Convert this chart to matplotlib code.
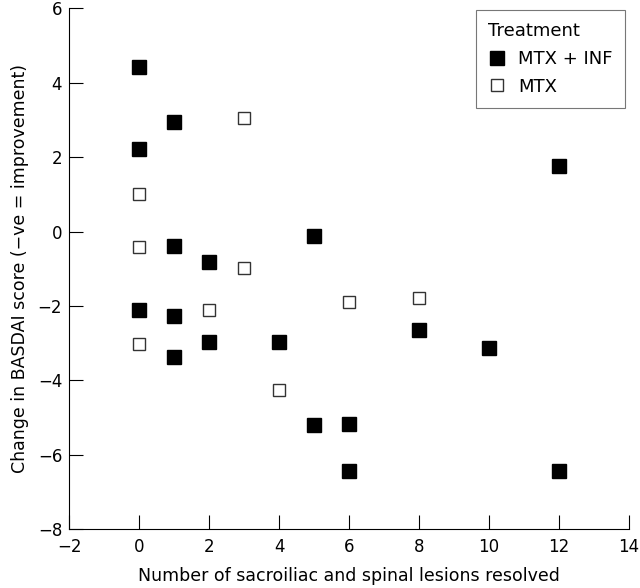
import matplotlib
matplotlib.use("Agg")
import matplotlib.pyplot as plt

plt.rcParams['font.family'] = ['DejaVu Sans']

# MTX + INF (filled squares)
inf_x = [0, 0, 0, 1, 1, 1, 1, 2, 2, 4, 5, 5, 6, 6, 8, 10, 12, 12]
inf_y = [4.43, 2.21, -2.11, 2.94, -0.38, -2.27, -3.37, -0.82, -2.96, -2.96,
         -0.12, -5.2, -5.17, -6.43, -2.65, -3.12, 1.77, -6.43]

# MTX alone (open squares)
mtx_x = [0, 0, 0, 2, 3, 3, 4, 6, 8]
mtx_y = [1.02, -0.41, -3.01, -2.11, 3.06, -0.98, -4.26, -1.89, -1.80]

fig = plt.figure(figsize=(6.4, 5.88), dpi=100)
ax = fig.add_axes([0.108, 0.100, 0.875, 0.886])

ax.plot(inf_x, inf_y, 's', color='black', markersize=9.5, linestyle='none',
        label='MTX + INF', clip_on=False)
ax.plot(mtx_x, mtx_y, 's', markerfacecolor='white', markeredgecolor='#333333',
        markeredgewidth=1.0, markersize=9.0, linestyle='none', label='MTX',
        clip_on=False)

ax.set_xlim(-2, 14)
ax.set_ylim(-8, 6)
ax.set_xticks(range(-2, 15, 2))
ax.set_yticks(range(-8, 7, 2))
ax.set_xticklabels(['\u22122', '0', '2', '4', '6', '8', '10', '12', '14'])
ax.set_yticklabels(['\u22128', '\u22126', '\u22124', '\u22122', '0', '2', '4', '6'])

for s in ['top', 'right']:
    ax.spines[s].set_visible(False)
for s in ['left', 'bottom']:
    ax.spines[s].set_linewidth(0.8)

ax.tick_params(direction='in', length=10, width=0.8, labelsize=12)
ax.tick_params(axis='x', pad=6)
ax.tick_params(axis='y', pad=5)

ax.set_xlabel('Number of sacroiliac and spinal lesions resolved', fontsize=12.5, labelpad=8)
ax.set_ylabel('Change in BASDAI score (\u2212ve = improvement)', fontsize=12.5, labelpad=6)

leg = ax.legend(title='Treatment', loc='upper right', bbox_to_anchor=(0.99, 0.998),
                bbox_transform=fig.transFigure, fontsize=13, title_fontsize=13,
                frameon=True, fancybox=False, edgecolor='#555555', alignment='left',
                handletextpad=0.7, borderpad=0.65, labelspacing=0.55, handlelength=1.0)
leg.get_frame().set_linewidth(0.8)

fig.savefig('out.png', dpi=100)
